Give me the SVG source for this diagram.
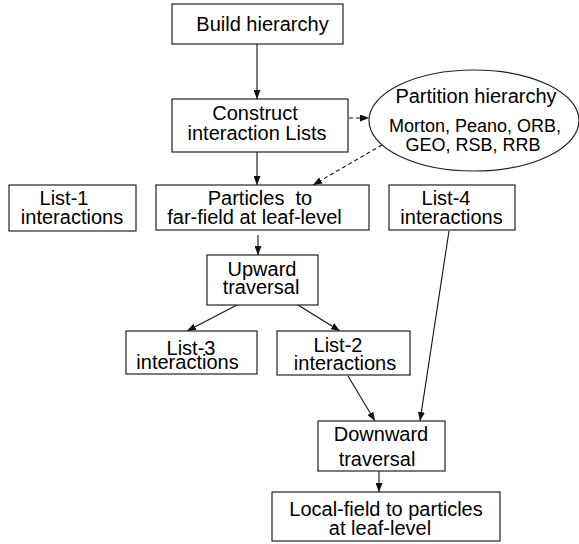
<svg xmlns="http://www.w3.org/2000/svg" width="579" height="544" viewBox="0 0 579 544">
<style>
.box{fill:#fff;stroke:#222;stroke-width:1.2}
.t{font-family:"Liberation Sans",Arial,sans-serif;font-size:20px;fill:#000;text-anchor:middle}
.s{font-size:18px}
.c{fill:none;stroke:#111;stroke-width:1.1}
.d{stroke-dasharray:4,3}
</style>
<defs>
<marker id="ah" markerWidth="9" markerHeight="7" refX="9" refY="3.5" orient="auto" markerUnits="userSpaceOnUse">
<path d="M0,0 L9,3.5 L0,7 z" fill="#111"/>
</marker>
</defs>
<rect width="579" height="544" fill="#fff"/>
<g id="connectors">
<line class="c" x1="257" y1="44" x2="257" y2="99" marker-end="url(#ah)"/>
<line class="c" x1="257" y1="152" x2="257" y2="185" marker-end="url(#ah)"/>
<line class="c d" x1="349" y1="118" x2="369" y2="118" marker-end="url(#ah)"/>
<line class="c d" x1="382" y1="145" x2="313" y2="185" marker-end="url(#ah)"/>
<line class="c" x1="258" y1="235" x2="258" y2="255" marker-end="url(#ah)"/>
<line class="c" x1="237" y1="305" x2="187" y2="331" marker-end="url(#ah)"/>
<line class="c" x1="298" y1="305" x2="340" y2="331" marker-end="url(#ah)"/>
<line class="c" x1="348" y1="376" x2="375" y2="421" marker-end="url(#ah)"/>
<line class="c" x1="449" y1="231" x2="420" y2="421" marker-end="url(#ah)"/>
<line class="c" x1="379" y1="471" x2="379" y2="492" marker-end="url(#ah)"/>
</g>
<g id="build"><rect class="box" x="172" y="4" width="171" height="40"/><text class="t" x="262.5" y="31">Build hierarchy</text></g>
<g id="construct"><rect class="box" x="172" y="99" width="176" height="53"/><text class="t" x="255" y="120">Construct</text><text class="t" x="257" y="140">interaction Lists</text></g>
<g id="partition"><ellipse class="box" cx="474" cy="120.5" rx="105" ry="50.5"/><text class="t" x="476" y="103">Partition hierarchy</text><text class="t s" x="475" y="132">Morton, Peano, ORB,</text><text class="t s" x="473" y="151">GEO, RSB, RRB</text></g>
<g id="list1"><rect class="box" x="9" y="185" width="127" height="46"/><text class="t" x="64" y="205">List-1</text><text class="t" x="72" y="224">interactions</text></g>
<g id="particles"><rect class="box" x="156" y="185" width="213" height="45"/><text class="t" x="260" y="205" xml:space="preserve">Particles  to</text><text class="t" x="254.5" y="224">far-field at leaf-level</text></g>
<g id="list4"><rect class="box" x="389" y="185" width="126" height="45"/><text class="t" x="446" y="205">List-4</text><text class="t" x="451.5" y="224">interactions</text></g>
<g id="upward"><rect class="box" x="207" y="255" width="111" height="50"/><text class="t" x="262" y="276">Upward</text><text class="t" x="261" y="294">traversal</text></g>
<g id="list3"><rect class="box" x="126" y="331" width="131" height="43"/><text class="t" x="191" y="355">List-3</text><text class="t" x="187.5" y="369">interactions</text></g>
<g id="list2"><rect class="box" x="277" y="331" width="133" height="44"/><text class="t" x="338" y="352">List-2</text><text class="t" x="345" y="370">interactions</text></g>
<g id="downward"><rect class="box" x="318" y="421" width="127" height="50"/><text class="t" x="381" y="441">Downward</text><text class="t" x="377" y="466">traversal</text></g>
<g id="local"><rect class="box" x="272" y="492" width="228" height="49"/><text class="t" x="386" y="516">Local-field to particles</text><text class="t" x="380" y="535">at leaf-level</text></g>
</svg>
